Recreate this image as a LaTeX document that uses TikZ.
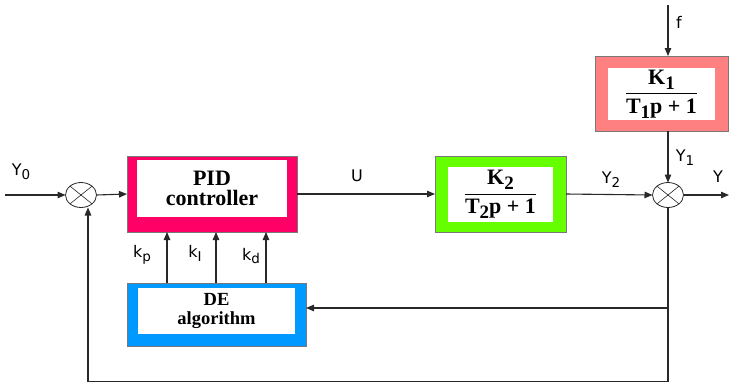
\documentclass[tikz,border=0pt]{standalone}
\usepackage{amsmath}
\usepackage{fontspec}
\setmainfont{Liberation Serif}
\newfontfamily\lblfont{DejaVu Sans}
\usetikzlibrary{arrows.meta,shapes.geometric}
\definecolor{pidpink}{RGB}{255,0,102}
\definecolor{kgreen}{RGB}{102,255,0}
\definecolor{ksalmon}{RGB}{255,128,128}
\definecolor{deblue}{RGB}{0,153,255}
\definecolor{framegray}{RGB}{120,120,120}
\definecolor{linegray}{RGB}{40,40,40}
\newcommand{\lsub}[1]{\raisebox{-0.45ex}{\fontsize{13.5}{13.5}\selectfont #1}}
\newcommand{\bfr}[2]{$\genfrac{}{}{1.2pt}{0}{\text{\textbf{#1}}}{\text{\textbf{#2}}}$}
\newcommand{\bsub}[1]{\raisebox{-0.5ex}{\fontsize{19}{19}\selectfont #1}}
\begin{document}
\begin{tikzpicture}[x=1pt,y=-1pt,
  outerbox/.style={draw=framegray, line width=0.8pt, inner sep=0pt, outer sep=0pt},
  innerbox/.style={fill=white, inner sep=0pt, outer sep=0pt, align=center},
  sumnode/.style={ellipse, draw=linegray, line width=0.8pt, fill=white, minimum width=31pt, minimum height=25pt, inner sep=0pt, outer sep=0pt},
  conn/.style={draw=linegray, line width=1.1pt, -{Triangle[length=8pt,width=6.5pt]}},
  plainline/.style={draw=linegray, line width=1.1pt},
  lbl/.style={font=\lblfont\fontsize{16}{18}\selectfont, inner sep=0pt},
  bigtext/.style={font=\fontsize{22}{24}\selectfont\bfseries}
]
\useasboundingbox (0,0) rectangle (729,384);

% sums
\node[sumnode] (s1) at (81,195) {};
\draw[linegray, line width=0.6pt] (s1.north west) -- (s1.south east) (s1.north east) -- (s1.south west);
\node[sumnode] (s2) at (668,195) {};
\draw[linegray, line width=0.6pt] (s2.north west) -- (s2.south east) (s2.north east) -- (s2.south west);

% PID box
\node[outerbox, fill=pidpink, minimum width=170pt, minimum height=76pt] (pid) at (212,194) {};
\node[innerbox, minimum width=150pt, minimum height=57pt, font=\fontsize{22}{22}\selectfont\bfseries] (pidin) at (212,188) {PID\\[-2pt]controller};

% K2 box
\node[outerbox, fill=kgreen, minimum width=131pt, minimum height=76pt] (k2) at (500.5,194) {};
\node[innerbox, minimum width=105pt, minimum height=55pt, bigtext] (k2in) at (500.5,194.5) {\bfr{K\bsub{2}}{T\bsub{2}p + 1}};

% K1 box
\node[outerbox, fill=ksalmon, minimum width=133pt, minimum height=75pt] (k1) at (661.5,93.5) {};
\node[innerbox, minimum width=107pt, minimum height=52pt, bigtext] (k1in) at (661.5,94) {\bfr{K\bsub{1}}{T\bsub{1}p + 1}};

% DE box
\node[outerbox, fill=deblue, minimum width=179pt, minimum height=63pt] (de) at (216.5,314.5) {};
\node[innerbox, minimum width=157pt, minimum height=46pt, font=\fontsize{18.5}{19}\selectfont\bfseries] (dein) at (216.5,311) {DE\\algorithm};

% coordinates
\coordinate (yin) at (5,195);
\coordinate (yout) at (729,195);
\coordinate (ftop) at (668,5);
\coordinate (fbr) at (668,308);
\coordinate (fbbot) at (668,381.5);
\coordinate (fbleft) at (88,381.5);

% connectors
\draw[conn] (yin) -- (s1.west);
\draw[conn] (s1.east) -- (pid.west);
\draw[conn] (pid.east) -- (k2.west);
\draw[conn] (k2.east) -- (s2.west);
\draw[conn] (s2.east) -- (yout);
\draw[conn] (ftop) -- (ftop |- k1.north);
\draw[conn] (ftop |- k1.south) -- (s2.north);
\draw[plainline] (s2.south) -- (fbbot) -- (fbleft);
\draw[conn] (fbleft) -- (fbleft |- s1.south);
\draw[conn] (fbr) -- (de.east |- fbr);
\foreach \xx in {167,216,266} {
  \draw[conn] (de.north -| \xx,0) -- (pid.south -| \xx,0);
}

% labels
\node[lbl] (ly0) at (21,172) {Y\lsub{0}};
\node[lbl] (lu) at (357,176) {U};
\node[lbl] (ly2) at (611,180) {Y\lsub{2}};
\node[lbl] (ly) at (718,177) {Y};
\node[lbl] (ly1) at (685,158) {Y\lsub{1}};
\node[lbl] (lf) at (679,22) {f};
\node[lbl] (lkp) at (142,255) {k\lsub{p}};
\node[lbl] (lki) at (195,253) {k\lsub{I}};
\node[lbl] (lkd) at (251,256) {k\lsub{d}};
\end{tikzpicture}
\end{document}
